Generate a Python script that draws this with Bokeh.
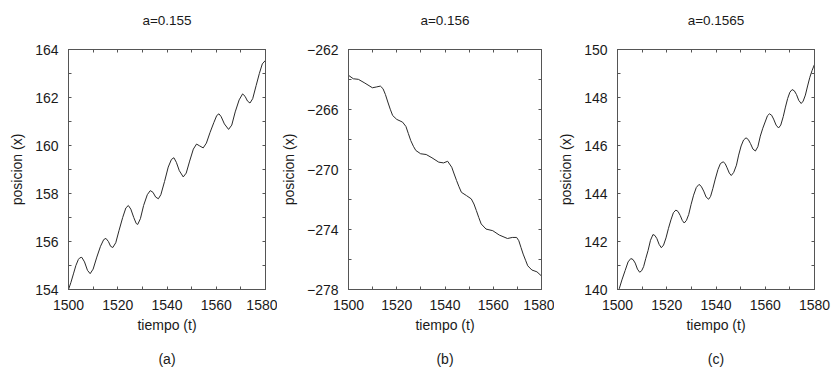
from bokeh.plotting import figure
from bokeh.layouts import row
from bokeh.models import Range1d, FixedTicker, LinearAxis
from bokeh.embed import file_html
from bokeh.resources import INLINE

# ---- data ----
titles = ["a=0.155", "a=0.156", "a=0.1565"]
captions = ["(a)", "(b)", "(c)"]
x_label = "tiempo (t)"
y_label = "posicion (x)"

t_a = [1500, 1501, 1502, 1503, 1504, 1504.6, 1505.4, 1506.5, 1507.7, 1508.8, 1510, 1511.5,
       1513, 1514.3, 1515.2, 1516.2, 1517.1, 1518, 1519.2, 1520.5, 1522, 1523.3, 1524.3,
       1525.3, 1526.5, 1527.5, 1528.1, 1529.2, 1530.5, 1532, 1533.2, 1534.3, 1535.4, 1536.5,
       1537.5, 1539, 1540.5, 1541.8, 1542.8, 1543.8, 1545, 1546.6, 1547.8, 1549.2, 1550.7,
       1552.0, 1553.3, 1554.7, 1556, 1557.5, 1559, 1560.2, 1561.1, 1562, 1563.3, 1565,
       1566.3, 1567.7, 1569.3, 1570.7, 1571.7, 1572.7, 1573.7, 1574.8, 1576.2, 1577.5,
       1578.7, 1580]
x_a = [154.0, 154.3, 154.65, 155.0, 155.25, 155.32, 155.34, 155.15, 154.8, 154.66, 154.85, 155.35,
       155.8, 156.08, 156.13, 156.0, 155.8, 155.75, 155.95, 156.45, 157.0, 157.4, 157.5,
       157.35, 157.0, 156.75, 156.71, 156.95, 157.5, 157.95, 158.12, 158.05, 157.85, 157.78,
       157.95, 158.5, 159.1, 159.42, 159.49, 159.3, 158.95, 158.69, 158.85, 159.35, 159.85,
       160.06, 159.98, 159.9, 160.1, 160.55, 160.95, 161.25, 161.32, 161.2, 160.9, 160.67,
       160.85, 161.4, 161.9, 162.15, 162.05, 161.85, 161.77, 161.95, 162.5, 163.0,
       163.4, 163.55]

t_b = [1500, 1502, 1504.1, 1506.8, 1509.9, 1511.5, 1513.2, 1514.3, 1515.3, 1516.3, 1517.3,
       1518.3, 1520, 1522.4, 1523.8, 1524.8, 1525.8, 1526.9, 1527.9, 1529.9, 1532.2, 1534.6,
       1537.4, 1539.4, 1541.1, 1542.8, 1543.8, 1544.8, 1545.8, 1546.8, 1548.9, 1550.9, 1552,
       1553, 1554, 1555, 1557, 1559.8, 1562.5, 1565.9, 1567.9, 1569.7, 1570.6, 1571.5, 1572.4,
       1573.4, 1574.3, 1576.0, 1578.1, 1580]
x_b = [-263.72, -263.95, -263.99, -264.24, -264.55, -264.5, -264.44, -264.61, -265.0, -265.5,
       -265.98, -266.4, -266.66, -266.84, -267.13, -267.6, -268.07, -268.45, -268.73, -268.95,
       -269.0, -269.22, -269.51, -269.56, -269.45, -269.85, -270.3, -270.74, -271.15, -271.52,
       -271.74, -271.96, -272.3, -272.74, -273.2, -273.63, -273.97, -274.08, -274.37, -274.6,
       -274.53, -274.53, -274.75, -275.2, -275.64, -276.05, -276.42, -276.7, -276.82, -277.1]

t_c = [1500, 1500.7, 1501.8, 1503.1, 1504.3, 1505.4, 1506.3, 1507.2, 1508.1, 1509.0, 1509.8,
       1510.6, 1511.5, 1512.4, 1513.4, 1514.4, 1515.2, 1516.0, 1516.9, 1517.8, 1518.7, 1519.7,
       1520.7, 1521.7, 1522.7, 1523.7, 1524.6, 1525.5, 1526.3, 1527.1, 1528.0, 1528.9, 1529.9,
       1530.9, 1532.0, 1533.1, 1534.0, 1535.0, 1536.0, 1537.0, 1537.8, 1538.7, 1539.7, 1540.8,
       1541.8, 1542.9, 1543.7, 1544.5, 1545.4, 1546.2, 1547.2, 1548.3, 1549.2, 1550.2, 1551.2,
       1552.2, 1553.1, 1554.0, 1555.0, 1556.0, 1557.0, 1558.0, 1559.0, 1560.1, 1560.9, 1561.7,
       1562.6, 1563.4, 1564.4, 1565.4, 1566.3, 1567.3, 1568.2, 1569.1, 1570.0, 1570.9, 1571.8,
       1572.7, 1573.6, 1574.6, 1575.4, 1576.3, 1577.2, 1578.1, 1579.0, 1580]
x_c = [139.95, 140.03, 140.4, 140.79, 141.15, 141.29, 141.25, 141.1, 140.85, 140.72, 140.78,
       140.95, 141.3, 141.62, 142.05, 142.29, 142.25, 142.12, 141.88, 141.74, 141.85, 142.15,
       142.55, 142.9, 143.2, 143.31, 143.25, 143.08, 142.88, 142.77, 142.88, 143.12, 143.55,
       143.93, 144.25, 144.38, 144.3, 144.1, 143.85, 143.76, 143.88, 144.2, 144.6, 145.0,
       145.25, 145.32, 145.25, 145.07, 144.85, 144.75, 144.88, 145.18, 145.6, 145.98, 146.23,
       146.32, 146.25, 146.08, 145.85, 145.77, 145.95, 146.39, 146.72, 147.02, 147.24, 147.32,
       147.26, 147.1, 146.85, 146.73, 146.85, 147.2, 147.6, 147.96, 148.22, 148.33, 148.28,
       148.12, 147.88, 147.75, 147.85, 148.1, 148.48, 148.84, 149.12, 149.38]

y_ranges = [(154, 164), (-278, -262), (140, 150)]
y_labeled = [[154, 156, 158, 160, 162, 164],
             [-278, -274, -270, -266, -262],
             [140, 142, 144, 146, 148, 150]]
y_unlabeled = [[155, 157, 159, 161, 163],
               [-276, -272, -268, -264],
               [141, 143, 145, 147, 149]]
x_range = (1500, 1580)
x_labeled = [1500, 1520, 1540, 1560, 1580]
x_unlabeled = [1510, 1530, 1550, 1570]

series = [(t_a, x_a), (t_b, x_b), (t_c, x_c)]

# layout: (fig width, left, right, top, bottom borders)
geoms = [(277, 68, 12, 47, 78), (277, 67, 13, 49, 80), (277, 63, 17, 48, 77)]

FONT = "Liberation Sans"
TXT = "#1a1a1a"
FRAME = "#555555"
FS = "14px"


def style_ticks(ax):
    ax.major_tick_in = 3
    ax.major_tick_out = 0
    ax.minor_tick_in = 3
    ax.minor_tick_out = 0
    ax.major_tick_line_color = FRAME
    ax.minor_tick_line_color = FRAME
    ax.axis_line_color = FRAME


def style_label(ax, size=FS):
    ax.axis_label_text_font = FONT
    ax.axis_label_text_font_size = size
    ax.axis_label_text_font_style = "normal"
    ax.axis_label_text_color = TXT


figs = []
for i in range(3):
    w, bl, br, bt, bb = geoms[i]
    p = figure(width=w, height=369, output_backend="svg", toolbar_location=None,
               x_range=Range1d(*x_range), y_range=Range1d(*y_ranges[i]),
               min_border_left=bl, min_border_right=br, min_border_top=bt,
               min_border_bottom=bb, x_axis_type=None, y_axis_type=None)
    p.outline_line_color = FRAME
    p.outline_line_width = 1
    p.background_fill_color = "white"
    p.border_fill_color = "white"
    p.xgrid.visible = False
    p.ygrid.visible = False

    # bottom axis with labels
    xb = LinearAxis(ticker=FixedTicker(ticks=x_labeled, minor_ticks=x_unlabeled))
    style_ticks(xb)
    xb.axis_label = x_label
    style_label(xb)
    xb.axis_label_standoff = 4
    xb.major_label_text_font = FONT
    xb.major_label_text_font_size = FS
    xb.major_label_text_color = TXT
    xb.major_label_standoff = 10
    p.add_layout(xb, "below")

    # caption "(a)" etc. under the x axis label
    xc = LinearAxis(ticker=FixedTicker(ticks=[], minor_ticks=[]))
    xc.axis_line_color = None
    xc.major_tick_line_color = None
    xc.minor_tick_line_color = None
    xc.axis_label = captions[i]
    style_label(xc)
    xc.axis_label_standoff = 15
    p.add_layout(xc, "below")

    # mirrored top ticks, carrying the panel title
    xt = LinearAxis(ticker=FixedTicker(ticks=[], minor_ticks=x_labeled + x_unlabeled))
    style_ticks(xt)
    xt.axis_label = titles[i]
    style_label(xt, "13.5px")
    xt.axis_label_standoff = 22
    p.add_layout(xt, "above")

    yl = LinearAxis(ticker=FixedTicker(ticks=y_labeled[i], minor_ticks=y_unlabeled[i]))
    style_ticks(yl)
    yl.axis_label = y_label
    style_label(yl)
    yl.axis_label_standoff = 7
    yl.major_label_text_font = FONT
    yl.major_label_text_font_size = FS
    yl.major_label_text_color = TXT
    yl.major_label_standoff = 10
    p.add_layout(yl, "left")

    yr = LinearAxis(ticker=FixedTicker(ticks=[], minor_ticks=y_labeled[i] + y_unlabeled[i]))
    style_ticks(yr)
    p.add_layout(yr, "right")

    tt, xx = series[i]
    p.line(tt, xx, line_color="#2a2a2a", line_width=1)
    figs.append(p)

layout = row(*figs)
open("out.html", "w").write(file_html(layout, INLINE))
